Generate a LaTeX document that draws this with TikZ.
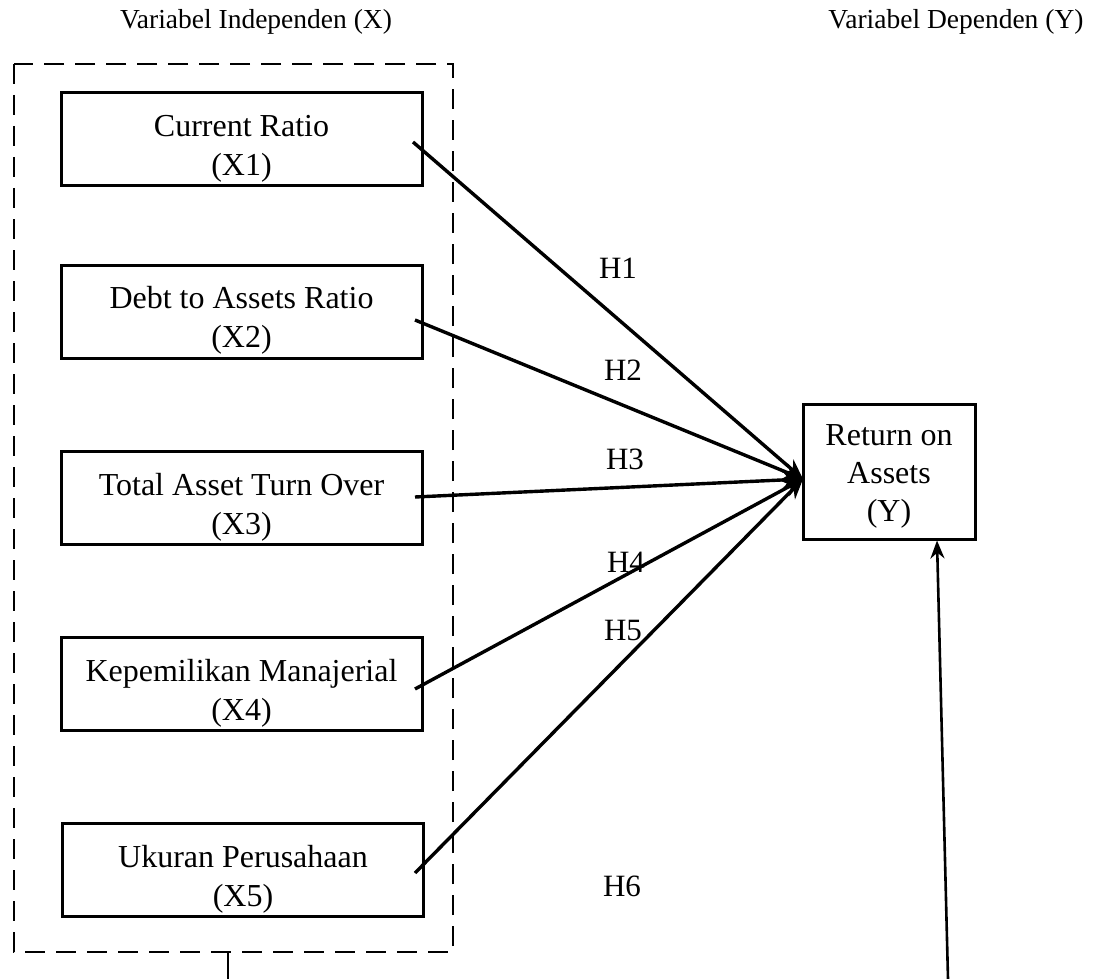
\documentclass[tikz,border=0pt]{standalone}
\usepackage{fontspec}
\setmainfont{Liberation Serif}
\usetikzlibrary{arrows.meta}
\newcommand{\fstrut}[1]{\rule{0pt}{#1pt}}
\begin{document}
\begin{tikzpicture}[x=1pt,y=-1pt,
  varbox/.style={draw,line width=3pt,minimum width=361pt,minimum height=93pt,inner sep=0pt,align=center,font=\fontsize{32}{39}\selectfont},
  hyp/.style={line width=3.4pt,-{Stealth[length=20pt,width=17pt]}},
  hlabel/.style={font=\fontsize{31}{38}\selectfont},
  head/.style={font=\fontsize{27.5}{33}\selectfont}]
\useasboundingbox (0,0) rectangle (1109,979);
\node[head] (hx) at (256,22) {Variabel Independen (X)};
\node[head] (hy) at (956,22) {Variabel Dependen (Y)};
\draw[line width=2.7pt,dash pattern=on 20pt off 11pt] (14,64) rectangle (453,952);
\node[varbox] (x1) at (241.5,139.5) {\fstrut{40}Current Ratio\\(X1)};
\node[varbox] (x2) at (241.5,311.5) {\fstrut{40}Debt to Assets Ratio\\(X2)};
\node[varbox] (x3) at (241.5,498) {\fstrut{40}Total Asset Turn Over\\(X3)};
\node[varbox] (x4) at (241.5,684) {\fstrut{40}Kepemilikan Manajerial\\(X4)};
\node[varbox] (x5) at (243,870) {\fstrut{40}Ukuran Perusahaan\\(X5)};
\node[draw,line width=3pt,minimum width=172pt,minimum height=135pt,inner sep=0pt,align=center,font=\fontsize{32}{38}\selectfont] (y) at (889,471.5) {\fstrut{30}Return on\\Assets\\(Y)};
\coordinate (t) at (803,479);
\coordinate (s1) at (413,142);
\coordinate (s2) at (415,320);
\coordinate (s3) at (415,497);
\coordinate (s4) at (415,689);
\coordinate (s5) at (415,873);
\draw[hyp] (s1) -- (t);
\draw[hyp] (s2) -- (t);
\draw[hyp] (s3) -- (t);
\draw[hyp] (s4) -- (t);
\draw[hyp] (s5) -- (t);
\node[hlabel] (h1) at (618,268) {H1};
\node[hlabel] (h2) at (623,370) {H2};
\node[hlabel] (h3) at (625,459) {H3};
\node[hlabel] (h4) at (626,562) {H4};
\node[hlabel] (h5) at (623,630) {H5};
\node[hlabel] (h6) at (622,886) {H6};
\coordinate (b1) at (228,952);
\coordinate (b2) at (228,979);
\draw[line width=1.4pt] (b1) -- (b2);
\coordinate (u) at (948,979);
\draw[line width=2.6pt,-{Stealth[length=18pt,width=14pt]}] (u) -- (y.south -| 937,0);
\end{tikzpicture}
\end{document}
